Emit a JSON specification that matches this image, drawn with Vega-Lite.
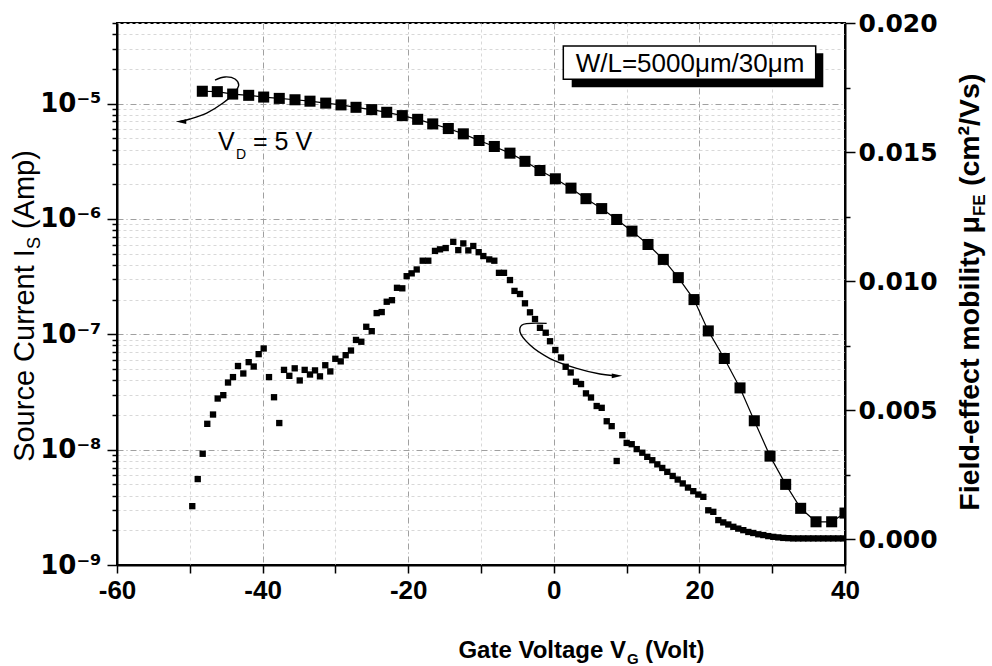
{
 "$schema": "https://vega.github.io/schema/vega-lite/v6.json",
 "width": 728,
 "height": 542,
 "autosize": {"type": "none"},
 "padding": {"left": 117, "top": 23, "right": 147, "bottom": 101},
 "background": "white",
 "config": {
  "view": {"stroke": "black", "strokeWidth": 2},
  "axis": {"domainColor": "black", "domainWidth": 2, "tickColor": "black", "tickWidth": 1.5, "labelColor": "black", "gridWidth": 1},
  "text": {"color": "black", "baseline": "alphabetic"}
 },
 "datasets": {
  "is": [
   {"v": -48.28, "i": 1.28e-5}, {"v": -46.22, "i": 1.27e-5}, {"v": -44.11, "i": 1.21e-5}, {"v": -41.91, "i": 1.18e-5},
   {"v": -39.85, "i": 1.14e-5}, {"v": -37.71, "i": 1.11e-5}, {"v": -35.55, "i": 1.08e-5}, {"v": -33.49, "i": 1.05e-5},
   {"v": -31.33, "i": 1.01e-5}, {"v": -29.23, "i": 9.75e-6}, {"v": -27.17, "i": 9.29e-6}, {"v": -25.01, "i": 8.87e-6},
   {"v": -22.95, "i": 8.41e-6}, {"v": -20.81, "i": 7.87e-6}, {"v": -18.70, "i": 7.31e-6}, {"v": -16.63, "i": 6.67e-6},
   {"v": -14.49, "i": 6.08e-6}, {"v": -12.43, "i": 5.47e-6}, {"v": -10.27, "i": 4.79e-6}, {"v": -8.17, "i": 4.25e-6},
   {"v": -6.02, "i": 3.72e-6}, {"v": -3.96, "i": 3.16e-6}, {"v": -1.90, "i": 2.63e-6}, {"v": 0.21, "i": 2.23e-6},
   {"v": 2.36, "i": 1.85e-6}, {"v": 4.42, "i": 1.50e-6}, {"v": 6.58, "i": 1.23e-6}, {"v": 8.64, "i": 9.9e-7},
   {"v": 10.74, "i": 7.84e-7}, {"v": 12.94, "i": 6.01e-7}, {"v": 15.04, "i": 4.46e-7}, {"v": 17.10, "i": 3.10e-7},
   {"v": 19.26, "i": 2.0e-7}, {"v": 21.22, "i": 1.07e-7}, {"v": 23.42, "i": 6.17e-8}, {"v": 25.58, "i": 3.43e-8},
   {"v": 27.54, "i": 1.78e-8}, {"v": 29.70, "i": 8.79e-9}, {"v": 31.85, "i": 5.0e-9}, {"v": 33.91, "i": 3.10e-9},
   {"v": 36.02, "i": 2.37e-9}, {"v": 38.17, "i": 2.37e-9}, {"v": 40.0, "i": 2.82e-9}
  ],
  "mu": [
   {"v": -49.66, "mu": 0.00128}, {"v": -48.91, "mu": 0.00233}, {"v": -48.23, "mu": 0.00331}, {"v": -47.60, "mu": 0.00447},
   {"v": -46.81, "mu": 0.00483}, {"v": -46.17, "mu": 0.00545}, {"v": -45.40, "mu": 0.00558}, {"v": -44.75, "mu": 0.00607},
   {"v": -44.07, "mu": 0.00628}, {"v": -43.38, "mu": 0.00671}, {"v": -42.65, "mu": 0.00642}, {"v": -41.91, "mu": 0.00686},
   {"v": -41.22, "mu": 0.00669}, {"v": -40.54, "mu": 0.00717}, {"v": -39.85, "mu": 0.00739}, {"v": -39.12, "mu": 0.00628},
   {"v": -38.43, "mu": 0.00550}, {"v": -37.71, "mu": 0.00450}, {"v": -37.06, "mu": 0.00656}, {"v": -36.33, "mu": 0.00633},
   {"v": -35.59, "mu": 0.00662}, {"v": -34.90, "mu": 0.00615}, {"v": -34.22, "mu": 0.00656}, {"v": -33.49, "mu": 0.00638},
   {"v": -32.80, "mu": 0.00654}, {"v": -32.12, "mu": 0.00631}, {"v": -31.39, "mu": 0.00674}, {"v": -30.70, "mu": 0.00650},
   {"v": -30.01, "mu": 0.00699}, {"v": -29.27, "mu": 0.00689}, {"v": -28.59, "mu": 0.00713}, {"v": -27.86, "mu": 0.00731},
   {"v": -27.17, "mu": 0.00772}, {"v": -26.44, "mu": 0.00765}, {"v": -25.76, "mu": 0.00823}, {"v": -25.01, "mu": 0.00806},
   {"v": -24.33, "mu": 0.00876}, {"v": -23.64, "mu": 0.00880}, {"v": -22.95, "mu": 0.00920}, {"v": -22.23, "mu": 0.00926},
   {"v": -21.54, "mu": 0.00974}, {"v": -20.81, "mu": 0.00972}, {"v": -20.21, "mu": 0.01019}, {"v": -19.52, "mu": 0.01030},
   {"v": -18.83, "mu": 0.01045}, {"v": -18.01, "mu": 0.01079}, {"v": -17.24, "mu": 0.01079}, {"v": -16.32, "mu": 0.01117},
   {"v": -15.63, "mu": 0.01123}, {"v": -14.85, "mu": 0.01128}, {"v": -13.81, "mu": 0.01152}, {"v": -13.12, "mu": 0.01120},
   {"v": -12.43, "mu": 0.01146}, {"v": -11.74, "mu": 0.01119}, {"v": -11.06, "mu": 0.01136}, {"v": -10.32, "mu": 0.01112},
   {"v": -9.68, "mu": 0.01097}, {"v": -8.87, "mu": 0.01084}, {"v": -8.17, "mu": 0.01079}, {"v": -7.53, "mu": 0.01032},
   {"v": -6.84, "mu": 0.01032}, {"v": -6.02, "mu": 0.01004}, {"v": -5.40, "mu": 0.00962}, {"v": -4.64, "mu": 0.00950},
   {"v": -3.96, "mu": 0.00914}, {"v": -3.27, "mu": 0.00879}, {"v": -2.58, "mu": 0.00853}, {"v": -1.90, "mu": 0.00819},
   {"v": -1.11, "mu": 0.00800}, {"v": -0.52, "mu": 0.00767}, {"v": 0.21, "mu": 0.00733}, {"v": 0.99, "mu": 0.00704},
   {"v": 1.63, "mu": 0.00668}, {"v": 2.32, "mu": 0.00646}, {"v": 3.05, "mu": 0.00610}, {"v": 3.74, "mu": 0.00601},
   {"v": 4.42, "mu": 0.00565}, {"v": 5.11, "mu": 0.00549}, {"v": 5.89, "mu": 0.00516}, {"v": 6.58, "mu": 0.00509},
   {"v": 7.27, "mu": 0.00457}, {"v": 7.95, "mu": 0.00438}, {"v": 8.64, "mu": 0.00303}, {"v": 9.41, "mu": 0.00403},
   {"v": 10.01, "mu": 0.00373}, {"v": 10.70, "mu": 0.00368}, {"v": 11.39, "mu": 0.00349}, {"v": 12.16, "mu": 0.00335},
   {"v": 12.84, "mu": 0.00319}, {"v": 13.53, "mu": 0.00306}, {"v": 14.22, "mu": 0.00290}, {"v": 14.90, "mu": 0.00276},
   {"v": 15.59, "mu": 0.00261}, {"v": 16.33, "mu": 0.00245}, {"v": 17.02, "mu": 0.00231}, {"v": 17.71, "mu": 0.00216},
   {"v": 18.43, "mu": 0.00200}, {"v": 19.16, "mu": 0.00186}, {"v": 19.85, "mu": 0.00173}, {"v": 20.54, "mu": 0.00164},
   {"v": 21.22, "mu": 0.00112}, {"v": 21.91, "mu": 0.00106}, {"v": 22.60, "mu": 0.00074}, {"v": 23.28, "mu": 0.00065},
   {"v": 23.97, "mu": 0.00057}, {"v": 24.66, "mu": 0.00048}, {"v": 25.34, "mu": 0.00041}, {"v": 26.03, "mu": 0.00035},
   {"v": 26.72, "mu": 0.00028}, {"v": 27.40, "mu": 0.00024}, {"v": 28.09, "mu": 0.00019}, {"v": 28.78, "mu": 0.00016},
   {"v": 29.46, "mu": 0.00012}, {"v": 30.15, "mu": 0.00009}, {"v": 30.84, "mu": 0.00007}, {"v": 31.52, "mu": 0.00005},
   {"v": 32.21, "mu": 0.00004}, {"v": 32.90, "mu": 0.00003}, {"v": 33.58, "mu": 0.00003}, {"v": 34.27, "mu": 0.00003},
   {"v": 34.96, "mu": 0.00003}, {"v": 35.65, "mu": 0.00003}, {"v": 36.33, "mu": 0.00003}, {"v": 37.02, "mu": 0.00003},
   {"v": 37.71, "mu": 0.00003}, {"v": 38.39, "mu": 0.00003}, {"v": 39.08, "mu": 0.00003}, {"v": 39.77, "mu": 0.00003}
  ],
  "arrows": [
   {"id": "a", "k": 0, "x": -46.54, "y": 0.01779}, {"id": "a", "k": 1, "x": -45.16, "y": 0.01791},
   {"id": "a", "k": 2, "x": -43.79, "y": 0.01783}, {"id": "a", "k": 3, "x": -43.28, "y": 0.01760},
   {"id": "a", "k": 4, "x": -44.02, "y": 0.01725}, {"id": "a", "k": 5, "x": -45.44, "y": 0.01690},
   {"id": "a", "k": 6, "x": -47.68, "y": 0.01651}, {"id": "a", "k": 7, "x": -49.97, "y": 0.01628},
   {"id": "a", "k": 8, "x": -51.35, "y": 0.01618},
   {"id": "b", "k": 0, "x": -0.98, "y": 0.00836}, {"id": "b", "k": 1, "x": -4.41, "y": 0.00829},
   {"id": "b", "k": 2, "x": -4.64, "y": 0.00803}, {"id": "b", "k": 3, "x": -3.27, "y": 0.00752},
   {"id": "b", "k": 4, "x": -0.52, "y": 0.00700}, {"id": "b", "k": 5, "x": 3.15, "y": 0.00662},
   {"id": "b", "k": 6, "x": 6.35, "y": 0.00640}, {"id": "b", "k": 7, "x": 8.00, "y": 0.00634}
  ],
  "heads": [
   {"dir": "left", "x": -51.21, "y": 0.01618},
   {"dir": "right", "x": 8.68, "y": 0.00633}
  ]
 },
 "resolve": {"scale": {"y": "independent"}},
 "encoding": {
  "x": {
   "type": "quantitative",
   "scale": {"domain": [-60, 40], "nice": false, "zero": false},
   "axis": {
    "title": null,
    "values": [-60, -50, -40, -30, -20, -10, 0, 10, 20, 30, 40],
    "labelExpr": "datum.value % 20 === 0 ? (datum.value < 0 ? '-' + format(-datum.value, 'd') : format(datum.value, 'd')) : ''",
    "labelFont": "Liberation Sans",
    "labelFontWeight": "bold",
    "labelFontSize": 26,
    "labelPadding": 4,
    "labelFlush": false,
    "labelOverlap": false,
    "tickSize": 8,
    "grid": true,
    "gridColor": {"condition": {"test": "datum.value % 20 === 0", "value": "#a0a0a0"}, "value": "#d8d8d8"},
    "gridDash": {"condition": {"test": "datum.value % 20 === 0", "value": [6, 3, 1, 3]}, "value": [3, 3]}
   }
  }
 },
 "layer": [
  {
   "data": {"name": "is"},
   "encoding": {
    "x": {"field": "v"},
    "y": {
     "field": "i", "type": "quantitative",
     "scale": {"type": "log", "domain": [1e-9, 5e-5], "nice": false},
     "axis": {
      "orient": "left",
      "title": null,
      "values": [1e-9, 2e-9, 3e-9, 4e-9, 5e-9, 6e-9, 7e-9, 8e-9, 9e-9, 1e-8, 2e-8, 3e-8, 4e-8, 5e-8, 6e-8, 7e-8, 8e-8, 9e-8, 1e-7, 2e-7, 3e-7, 4e-7, 5e-7, 6e-7, 7e-7, 8e-7, 9e-7, 1e-6, 2e-6, 3e-6, 4e-6, 5e-6, 6e-6, 7e-6, 8e-6, 9e-6, 1e-5, 2e-5, 3e-5, 4e-5, 5e-5],
      "labelExpr": "abs(log(datum.value)/LN10 - round(log(datum.value)/LN10)) < 0.01 ? '10⁻' + substring('⁰¹²³⁴⁵⁶⁷⁸⁹', -round(log(datum.value)/LN10), 1 - round(log(datum.value)/LN10)) : ''",
      "labelFont": "DejaVu Sans",
      "labelFontWeight": "bold",
      "labelFontSize": 26,
      "labelPadding": 6,
      "labelOverlap": false,
      "labelFlush": false,
      "tickSize": {"condition": {"test": "abs(log(datum.value)/LN10 - round(log(datum.value)/LN10)) < 0.01", "value": 10}, "value": 5},
      "grid": true,
      "gridColor": {"condition": {"test": "abs(log(datum.value)/LN10 - round(log(datum.value)/LN10)) < 0.01", "value": "#a0a0a0"}, "value": "#d8d8d8"},
      "gridDash": {"condition": {"test": "abs(log(datum.value)/LN10 - round(log(datum.value)/LN10)) < 0.01", "value": [6, 3, 1, 3]}, "value": [3, 3]}
     }
    }
   },
   "layer": [
    {"mark": {"type": "line", "color": "black", "strokeWidth": 1.2, "clip": true}},
    {"mark": {"type": "point", "shape": "square", "filled": true, "color": "black", "opacity": 1, "size": 122, "clip": true}}
   ]
  },
  {
   "data": {"name": "mu"},
   "mark": {"type": "point", "shape": "square", "filled": true, "color": "black", "opacity": 1, "size": 40, "clip": true},
   "encoding": {
    "x": {"field": "v"},
    "y": {
     "field": "mu", "type": "quantitative",
     "scale": {"domain": [-0.001, 0.02], "nice": false, "zero": false},
     "axis": {
      "orient": "right",
      "title": null,
      "values": [0, 0.0025, 0.005, 0.0075, 0.01, 0.0125, 0.015, 0.0175, 0.02],
      "labelExpr": "abs(datum.value*200 - round(datum.value*200)) < 0.01 ? format(datum.value, '.3f') : ''",
      "labelFont": "DejaVu Sans",
      "labelFontWeight": "bold",
      "labelFontSize": 25,
      "labelPadding": 3,
      "labelOverlap": false,
      "labelFlush": false,
      "grid": false,
      "tickSize": {"condition": {"test": "abs(datum.value*200 - round(datum.value*200)) < 0.01", "value": 10}, "value": 5}
     }
    }
   }
  },
  {
   "encoding": {
    "y": {"type": "quantitative", "scale": {"domain": [-0.001, 0.02], "nice": false, "zero": false}, "axis": null}
   },
   "layer": [
    {
     "data": {"name": "arrows"},
     "mark": {"type": "line", "color": "black", "strokeWidth": 1.4, "interpolate": "catmull-rom"},
     "encoding": {
      "x": {"field": "x"},
      "y": {"field": "y"},
      "detail": {"field": "id"},
      "order": {"field": "k"}
     }
    },
    {
     "data": {"name": "heads"},
     "transform": [{"filter": "datum.dir === 'left'"}],
     "mark": {"type": "point", "shape": "M-1,0L1,-0.45L1,0.45Z", "filled": true, "color": "black", "opacity": 1, "size": 110},
     "encoding": {"x": {"field": "x"}, "y": {"field": "y"}}
    },
    {
     "data": {"name": "heads"},
     "transform": [{"filter": "datum.dir === 'right'"}],
     "mark": {"type": "point", "shape": "M1,0L-1,-0.45L-1,0.45Z", "filled": true, "color": "black", "opacity": 1, "size": 110},
     "encoding": {"x": {"field": "x"}, "y": {"field": "y"}}
    },
    {
     "data": {"values": [{}]},
     "mark": {"type": "rect", "color": "black"},
     "encoding": {"x": {"datum": 2.459}, "x2": {"datum": 37.019}, "y": {"datum": 0.018826}, "y2": {"datum": 0.017508}}
    },
    {
     "data": {"values": [{}]},
     "mark": {"type": "rect", "fill": "white", "stroke": "black", "strokeWidth": 1.5},
     "encoding": {"x": {"datum": 1.306}, "x2": {"datum": 35.975}, "y": {"datum": 0.019109}, "y2": {"datum": 0.017818}}
    },
    {
     "data": {"values": [{}]},
     "mark": {"type": "text", "text": "W/L=5000μm/30μm", "align": "center", "font": "Liberation Sans", "fontSize": 26},
     "encoding": {"x": {"datum": 18.71}, "y": {"datum": 0.018089}}
    },
    {
     "data": {"values": [{}]},
     "mark": {"type": "text", "text": "V", "align": "left", "font": "Liberation Sans", "fontSize": 25},
     "encoding": {"x": {"datum": -46.13}, "y": {"datum": 0.015078}}
    },
    {
     "data": {"values": [{}]},
     "mark": {"type": "text", "text": "D", "align": "left", "font": "Liberation Sans", "fontSize": 14},
     "encoding": {"x": {"datum": -43.66}, "y": {"datum": 0.014729}}
    },
    {
     "data": {"values": [{}]},
     "mark": {"type": "text", "text": "= 5 V", "align": "left", "font": "Liberation Sans", "fontSize": 25},
     "encoding": {"x": {"datum": -41.32}, "y": {"datum": 0.015078}}
    },
    {
     "data": {"values": [{}]},
     "mark": {"type": "text", "text": "Gate Voltage V", "align": "right", "font": "Liberation Sans", "fontWeight": "bold", "fontSize": 24},
     "encoding": {"x": {"datum": 9.92}, "y": {"datum": -0.004612}}
    },
    {
     "data": {"values": [{}]},
     "mark": {"type": "text", "text": "G", "align": "left", "font": "Liberation Sans", "fontWeight": "bold", "fontSize": 15},
     "encoding": {"x": {"datum": 10.06}, "y": {"datum": -0.004845}}
    },
    {
     "data": {"values": [{}]},
     "mark": {"type": "text", "text": "(Volt)", "align": "left", "font": "Liberation Sans", "fontWeight": "bold", "fontSize": 24},
     "encoding": {"x": {"datum": 12.53}, "y": {"datum": -0.004612}}
    },
    {
     "data": {"values": [{}]},
     "mark": {"type": "text", "text": "Source Current I", "align": "right", "angle": 270, "font": "Liberation Sans", "fontSize": 29},
     "encoding": {"x": {"datum": -71.40}, "y": {"datum": 0.01124}}
    },
    {
     "data": {"values": [{}]},
     "mark": {"type": "text", "text": "S", "align": "left", "angle": 270, "font": "Liberation Sans", "fontSize": 18},
     "encoding": {"x": {"datum": -70.58}, "y": {"datum": 0.01124}}
    },
    {
     "data": {"values": [{}]},
     "mark": {"type": "text", "text": "(Amp)", "align": "left", "angle": 270, "font": "Liberation Sans", "fontSize": 29},
     "encoding": {"x": {"datum": -71.40}, "y": {"datum": 0.012016}}
    },
    {
     "data": {"values": [{}]},
     "mark": {"type": "text", "text": "Field-effect mobility μ", "align": "right", "angle": 270, "font": "Liberation Sans", "fontWeight": "bold", "fontSize": 28.5},
     "encoding": {"x": {"datum": 58.41}, "y": {"datum": 0.012519}}
    },
    {
     "data": {"values": [{}]},
     "mark": {"type": "text", "text": "FE", "align": "left", "angle": 270, "font": "Liberation Sans", "fontWeight": "bold", "fontSize": 17},
     "encoding": {"x": {"datum": 59.23}, "y": {"datum": 0.012519}}
    },
    {
     "data": {"values": [{}]},
     "mark": {"type": "text", "text": "(cm²/Vs)", "align": "left", "angle": 270, "font": "Liberation Sans", "fontWeight": "bold", "fontSize": 28.5},
     "encoding": {"x": {"datum": 58.41}, "y": {"datum": 0.013682}}
    }
   ]
  }
 ]
}
